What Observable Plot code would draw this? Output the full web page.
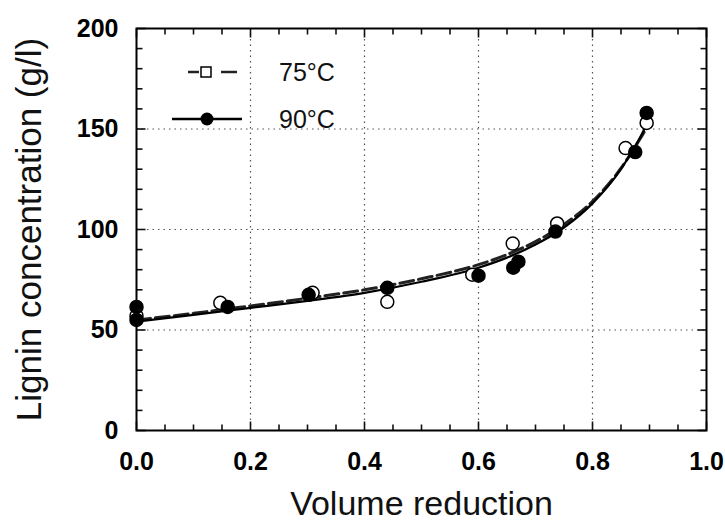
<!DOCTYPE html>
<html><head><meta charset="utf-8">
<script src="https://cdn.jsdelivr.net/npm/d3@7"></script>
<script src="https://cdn.jsdelivr.net/npm/@observablehq/plot@0.6"></script>
<style>
body{margin:0;background:#fff;}
#wrap{position:relative;width:725px;height:531px;font-family:"Liberation Sans",Arial,sans-serif;}
#legend{position:absolute;left:0;top:0;pointer-events:none;}
</style>
</head><body><div id="wrap"></div>
<script>
// Measured points
const vr75   = [0, 0.147, 0.309, 0.44, 0.589, 0.66, 0.738, 0.858, 0.895];
const conc75 = [57, 63.5, 68.5, 64, 77.5, 93, 103, 140.5, 153];
const vr90   = [0, 0, 0.16, 0.302, 0.44, 0.60, 0.661, 0.67, 0.735, 0.875, 0.895];
const conc90 = [61.5, 55, 61.5, 67.5, 71, 77, 81, 84, 99, 138.5, 158];
// Fitted curves
const fitVr    = [0, 0.1, 0.2, 0.3, 0.4, 0.5, 0.6, 0.65, 0.7, 0.75, 0.8, 0.85, 0.88, 0.9];
const fit75    = [55, 58.3, 62, 65.8, 70, 75.5, 82.5, 87.5, 94, 102.5, 114, 130.5, 143.5, 153];
const fit90    = [54.2, 57.5, 61, 64.5, 68.5, 74, 81, 86, 92.5, 101, 113, 130, 144, 155];
// Ticks
const xTicks = [0, 0.2, 0.4, 0.6, 0.8, 1.0];
const xMinorTicks = [0.05,0.1,0.15,0.25,0.3,0.35,0.45,0.5,0.55,0.65,0.7,0.75,0.85,0.9,0.95];
const yTicks = [0, 50, 100, 150, 200];
const yMinorTicks = [10,20,30,40,60,70,80,90,110,120,130,140,160,170,180,190];
const xGrid = [0.2, 0.4, 0.6, 0.8];
const yGrid = [50, 100, 150];
const legendLabels = ["75°C", "90°C"];
const xTitle = "Volume reduction";
const yTitle = "Lignin concentration (g/l)";

const pts75 = vr75.map((x,i)=>({x, y: conc75[i]}));
const pts90 = vr90.map((x,i)=>({x, y: conc90[i]}));
const line75 = fitVr.map((x,i)=>({x, y: fit75[i]}));
const line90 = fitVr.map((x,i)=>({x, y: fit90[i]}));

const W = 725, H = 531, ML = 136, MR = 19, MT = 28, MB = 101;
const FW = W - ML - MR, FH = H - MT - MB;
const XD = [0, 1], YD = [0, 200];
const ff = '"Liberation Sans", Arial, sans-serif';

// inward tick marks on all four sides (length in pixels, converted to data units)
const tickRows = [];
const addX = (vals, len) => {
  const d = len * (YD[1] - YD[0]) / FH;
  for (const v of vals) {
    tickRows.push({x1: v, x2: v, y1: YD[0], y2: YD[0] + d});
    tickRows.push({x1: v, x2: v, y1: YD[1] - d, y2: YD[1]});
  }
};
const addY = (vals, len) => {
  const d = len * (XD[1] - XD[0]) / FW;
  for (const v of vals) {
    tickRows.push({x1: XD[0], x2: XD[0] + d, y1: v, y2: v});
    tickRows.push({x1: XD[1] - d, x2: XD[1], y1: v, y2: v});
  }
};
addX(xTicks, 9); addX(xMinorTicks, 6);
addY(yTicks, 9); addY(yMinorTicks, 6);

const chart = Plot.plot({
  width: W, height: H,
  marginLeft: ML, marginRight: MR, marginTop: MT, marginBottom: MB,
  style: {fontFamily: ff, color: "#000", background: "#fff"},
  x: {domain: XD},
  y: {domain: YD},
  marks: [
    Plot.gridX(xGrid, {stroke: "#555", strokeOpacity: 1, strokeDasharray: "1.5,4", strokeWidth: 1.2}),
    Plot.gridY(yGrid, {stroke: "#555", strokeOpacity: 1, strokeDasharray: "1.5,4", strokeWidth: 1.2}),
    Plot.line(line75, {x:"x", y:"y", curve:"monotone-x", stroke:"#222", strokeWidth:3, strokeDasharray:"14,5"}),
    Plot.line(line90, {x:"x", y:"y", curve:"monotone-x", stroke:"#000", strokeWidth:2.2}),
    Plot.dot(pts75, {x:"x", y:"y", r:6.5, fill:"white", stroke:"black", strokeWidth:1.5}),
    Plot.dot(pts90, {x:"x", y:"y", r:6.5, fill:"black", stroke:"black"}),
    Plot.link(tickRows, {x1:"x1", x2:"x2", y1:"y1", y2:"y2", stroke:"#111", strokeWidth:1.6}),
    Plot.axisX(xTicks, {anchor:"bottom", tickSize:0, tickPadding:22, tickFormat: d3.format(".1f"), fontSize:25, fontWeight:"bold", label:null}),
    Plot.axisY(yTicks, {anchor:"left", tickSize:0, tickPadding:18, fontSize:25, fontWeight:"bold", label:null}),
    Plot.frame({stroke:"black", strokeWidth:2}),
    Plot.text([xTitle], {frameAnchor:"bottom", dy:84, fontSize:34, fill:"#111"}),
    Plot.text([yTitle], {frameAnchor:"left", textAnchor:"middle", lineAnchor:"middle", rotate:-90, dx:-107, fontSize:35, fill:"#111"})
  ]
});
const wrap = document.getElementById("wrap");
wrap.appendChild(chart);

// Legend overlay
const svg = d3.select(wrap).append("svg").attr("id","legend").attr("width",W).attr("height",H);
const g = svg.append("g").attr("font-family", ff).attr("font-size", 25).attr("fill", "#111");
// 75°C
g.append("line").attr("x1",188).attr("x2",199).attr("y1",72).attr("y2",72)
  .attr("stroke","#222").attr("stroke-width",2.5);
g.append("line").attr("x1",221).attr("x2",237).attr("y1",72).attr("y2",72)
  .attr("stroke","#222").attr("stroke-width",2.5);
g.append("rect").attr("x",201).attr("y",67).attr("width",10).attr("height",10)
  .attr("fill","white").attr("stroke","black").attr("stroke-width",1.5);
g.append("text").attr("x",279).attr("y",81).text(legendLabels[0]);
// 90°C
g.append("line").attr("x1",172).attr("x2",242).attr("y1",119).attr("y2",119)
  .attr("stroke","#000").attr("stroke-width",2.5);
g.append("circle").attr("cx",207).attr("cy",119).attr("r",6.5).attr("fill","black");
g.append("text").attr("x",279).attr("y",128).text(legendLabels[1]);
</script>
</body></html>
